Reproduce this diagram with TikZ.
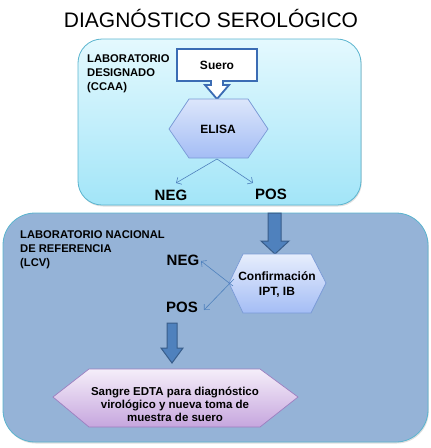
\documentclass[tikz,border=0pt]{standalone}
\usepackage{fontspec}
\setmainfont{Liberation Sans}
\usetikzlibrary{arrows.meta,shadows}
\definecolor{topfillA}{HTML}{E4F9FE}
\definecolor{topfillB}{HTML}{A2E5F8}
\definecolor{boxline}{HTML}{5AB4CE}
\definecolor{botfill}{HTML}{95B3D7}
\definecolor{bigarrow}{HTML}{4F81BD}
\definecolor{bigarrowline}{HTML}{385D8A}
\definecolor{suerob}{HTML}{3B6CB4}
\definecolor{hexA}{HTML}{DCE6FB}
\definecolor{hexB}{HTML}{A4BDF5}
\definecolor{hexline}{HTML}{7A9AD6}
\definecolor{purA}{HTML}{F5EEF9}
\definecolor{purB}{HTML}{C6A6DE}
\definecolor{purline}{HTML}{9C7FC0}
\tikzset{
  panel/.style={draw=boxline, line width=0.8pt, drop shadow={opacity=0.25, shadow xshift=0.8pt, shadow yshift=-1.5pt}},
  bluehex/.style={draw=hexline, line width=0.7pt, top color=hexA, bottom color=hexB},
  purhex/.style={draw=purline, line width=0.7pt, top color=purA, bottom color=purB},
  fatarrow/.style={fill=bigarrow, draw=bigarrowline, line width=1pt, line join=miter},
  thinarrow/.style={draw=bigarrow, line width=0.6pt, -{Straight Barb[length=4pt,width=8pt]}},
  lab/.style={font=\bfseries\fontsize{11.2}{14}\selectfont, align=left, inner sep=0pt, anchor=north west},
  res/.style={font=\bfseries\fontsize{15}{18}\selectfont, inner sep=0pt},
  hextext/.style={font=\bfseries\fontsize{12}{15}\selectfont, align=center, inner sep=0pt},
}
\begin{document}
\begin{tikzpicture}[x=1pt,y=-1pt]
\useasboundingbox (0,0) rectangle (431,448);
% title
\node[font=\fontsize{21}{25}\selectfont, inner sep=0pt] (title) at (211,18) {DIAGNÓSTICO SEROLÓGICO};
% panels
\path[panel, top color=topfillA, bottom color=topfillB, rounded corners=24pt] (78,39) rectangle (361,205);
\path[panel, fill=botfill, rounded corners=32pt] (3,213) rectangle (428,442);
% panel labels
\node[lab] (lab1) at (87,54) {LABORATORIO\\DESIGNADO\\(CCAA)};
\node[lab] (lab2) at (20,230) {LABORATORIO NACIONAL\\DE REFERENCIA\\(LCV)};
% Suero callout
\draw[draw=suerob, line width=1.8pt, fill=white, line join=miter]
  (177,49) -- (257,49) -- (257,81) -- (223,81) -- (223,85) -- (229,85) -- (217,99)
  -- (205,85) -- (211,85) -- (211,81) -- (177,81) -- cycle;
\node[hextext] (suero) at (217,65) {Suero};
% ELISA
\path[bluehex] (169,129) -- (189,99) -- (248,99) -- (268,129) -- (248,158) -- (189,158) -- cycle;
\node[hextext] (elisa) at (218,129) {ELISA};
\coordinate (elisab) at (217,159);
\node[res] (neg1) at (171,195) {NEG};
\node[res] (pos1) at (271,194) {POS};
\coordinate (neg1t) at (176,183);
\coordinate (pos1t) at (253,183);
\draw[thinarrow] (elisab) -- (neg1t);
\draw[thinarrow] (elisab) -- (pos1t);
% big arrow 1
\path[fatarrow] (268,213) -- (281,213) -- (281,241) -- (289,241) -- (275,254) -- (261,241) -- (268,241) -- cycle;
% Confirmacion
\path[bluehex, top color=hexA!70!white] (229,283) -- (243,254) -- (311,254) -- (326,283) -- (311,313) -- (243,313) -- cycle;
\node[hextext] (conf) at (277,285) {Confirmación\\IPT, IB};
\coordinate (confw) at (229,283);
\node[res] (neg2) at (183,260) {NEG};
\node[res] (pos2) at (182,307) {POS};
\coordinate (neg2t) at (201,261);
\coordinate (pos2t) at (204,310);
\draw[thinarrow] ([shift={(4,3)}]confw) -- (neg2t);
\draw[thinarrow] ([shift={(5,-4)}]confw) -- (pos2t);
% big arrow 2
\path[fatarrow] (167,323) -- (177,323) -- (177,348) -- (183,348) -- (172,363) -- (161,348) -- (167,348) -- cycle;
% final hexagon
\path[purhex] (53,397) -- (89,369) -- (260,369) -- (298,397) -- (260,427) -- (89,427) -- cycle;
\node[font=\bfseries\fontsize{11.5}{13.3}\selectfont, align=center, inner sep=0pt] (sangre) at (175,404.5)
  {Sangre EDTA para diagnóstico\\virológico y nueva toma de\\muestra de suero};
\end{tikzpicture}
\end{document}
